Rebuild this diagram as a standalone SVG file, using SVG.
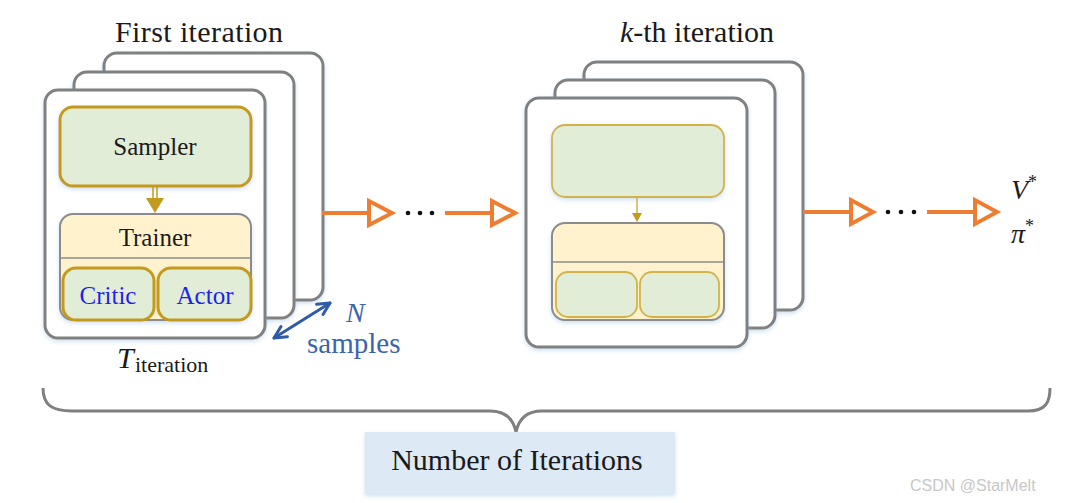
<svg xmlns="http://www.w3.org/2000/svg" width="1066" height="503" viewBox="0 0 1066 503">
<defs>
<style>
.card{fill:#fff;stroke:#808080;stroke-width:3}
.samp{fill:#E2EDD7;stroke:#C39A1E;stroke-width:3}
.samp2{fill:#E2EDD7;stroke:#D4B24A;stroke-width:1.8}
.train{fill:#FFF2CC;stroke:#8C8C8C;stroke-width:2}
.sep{stroke:#8C8C8C;stroke-width:1.5}
.orange{stroke:#ED7D31;stroke-width:4;fill:none}
.tri{stroke:#ED7D31;stroke-width:4;fill:#fff;stroke-linejoin:miter}
.serif{font-family:"Liberation Serif","Times New Roman",serif;fill:#1a1a1a}
.blue{fill:#1F1FF0}
.nblue{fill:#3B64AE}
.nb{stroke:#2F5BA8;stroke-width:3;fill:none;stroke-linecap:round;stroke-linejoin:round}
</style>
<filter id="sh" x="-10%" y="-10%" width="120%" height="130%">
<feDropShadow dx="0" dy="2" stdDeviation="2" flood-color="#9DC3E6" flood-opacity="0.5"/>
</filter>
</defs>
<rect width="1066" height="503" fill="#fff"/>

<!-- titles -->
<text class="serif" x="199" y="42" font-size="30" text-anchor="middle" textLength="168" lengthAdjust="spacing">First iteration</text>
<text class="serif" x="697" y="42" font-size="30" text-anchor="middle"><tspan font-style="italic">k</tspan>-th iteration</text>

<!-- first stack -->
<g id="stack1">
<rect class="card" x="104" y="53" width="219" height="247" rx="13" filter="url(#sh)"/>
<rect class="card" x="74" y="72" width="220" height="246" rx="13" filter="url(#sh)"/>
<rect class="card" x="45" y="90" width="220" height="248" rx="13" filter="url(#sh)"/>
</g>
<g id="sampler1">
<rect class="samp" x="60" y="107" width="191" height="79" rx="13" filter="url(#sh)"/>
<text class="serif" x="155" y="155" font-size="25" text-anchor="middle">Sampler</text>
</g>
<g id="trainer1">
<rect class="train" x="60" y="214" width="191" height="106" rx="13" filter="url(#sh)"/>
<line class="sep" x1="61" y1="258" x2="250" y2="258"/>
<text class="serif" x="155" y="246" font-size="25" text-anchor="middle">Trainer</text>
</g>
<g id="critic1">
<rect class="samp" x="63" y="268" width="91" height="52" rx="13"/>
<text class="serif blue" x="108" y="304" font-size="25" text-anchor="middle">Critic</text>
</g>
<g id="actor1">
<rect class="samp" x="158" y="268" width="93" height="52" rx="13"/>
<text class="serif blue" x="205" y="304" font-size="25" text-anchor="middle">Actor</text>
</g>
<text class="serif" x="117" y="368" font-size="30" font-style="italic">T</text>
<text class="serif" x="135" y="372" font-size="22">iteration</text>

<!-- N samples -->
<g id="nsamples">
<text class="serif nblue" x="346" y="322" font-size="28" font-style="italic">N</text>
<text class="serif nblue" x="307" y="353" font-size="29">samples</text>
</g>

<!-- second stack -->
<g id="stack2">
<rect class="card" x="584" y="62" width="219" height="248" rx="13" filter="url(#sh)"/>
<rect class="card" x="555" y="80" width="220" height="248" rx="13" filter="url(#sh)"/>
<rect class="card" x="526" y="98" width="221" height="249" rx="13" filter="url(#sh)"/>
</g>
<g id="sampler2">
<rect class="samp2" x="552" y="125" width="172" height="72" rx="13" filter="url(#sh)"/>
</g>
<g id="trainer2">
<rect class="train" x="552" y="223" width="172" height="97" rx="13" stroke-width="1.5" filter="url(#sh)"/>
<line class="sep" x1="553" y1="262" x2="723" y2="262"/>
</g>
<g id="critic2"><rect class="samp2" x="556" y="272" width="81" height="45" rx="12"/></g>
<g id="actor2"><rect class="samp2" x="640" y="272" width="79" height="45" rx="12"/></g>

<!-- connectors -->
<g id="connectors">
<line x1="153" y1="187" x2="153" y2="200" stroke="#C39A1E" stroke-width="1.5"/>
<line x1="157" y1="187" x2="157" y2="200" stroke="#C39A1E" stroke-width="1.5"/>
<polygon points="146,198 164,198 155,213" fill="#C39A1E"/>
<line x1="637" y1="197" x2="637" y2="214" stroke="#D4B24A" stroke-width="1.5"/>
<polygon points="632,213 642,213 637,222" fill="#C39A1E"/>

<line class="orange" x1="322" y1="213" x2="369" y2="213"/>
<polygon class="tri" points="369,201 369,225 392,213"/>
<line class="orange" x1="445" y1="213" x2="492" y2="213"/>
<polygon class="tri" points="492,201 492,225 515,213"/>
<line class="orange" x1="803" y1="212" x2="851" y2="212"/>
<polygon class="tri" points="851,200 851,224 873,212"/>
<line class="orange" x1="927" y1="212" x2="975" y2="212"/>
<polygon class="tri" points="975,200 975,224 997,212"/>

<line class="nb" x1="274" y1="338" x2="330" y2="303"/>
<polyline class="nb" points="316.6,304.3 330,303 323,314.5"/>
<polyline class="nb" points="281,326.5 274,338 287.4,336.7"/>
</g>
<g fill="#111">
<circle cx="408" cy="213" r="2.3"/><circle cx="420" cy="213" r="2.3"/><circle cx="432" cy="213" r="2.3"/>
<circle cx="888" cy="212" r="2.3"/><circle cx="901" cy="212" r="2.3"/><circle cx="914" cy="212" r="2.3"/>
</g>

<!-- results -->
<text class="serif" x="1011" y="199" font-size="28" font-style="italic">V<tspan font-size="18" dy="-11" font-style="normal">*</tspan></text>
<text class="serif" x="1011" y="243" font-size="28" font-style="italic">π<tspan font-size="18" dy="-11" font-style="normal">*</tspan></text>

<!-- brace -->
<path d="M43,388 C43,405 52,411 72,411 L490,411 C505,411 513,418 516,432 C519,418 527,411 542,411 L1028,411 C1046,411 1050,402 1050,388" fill="none" stroke="#7F7F7F" stroke-width="3"/>

<g id="count">
<rect x="365" y="432" width="310" height="62" fill="#DDE9F5" filter="url(#sh)"/>
<text class="serif" x="517" y="470" font-size="30" text-anchor="middle">Number of Iterations</text>
</g>

<text x="910" y="491" font-family="Liberation Sans, Arial, sans-serif" font-size="16" fill="#C8C8C8">CSDN @StarMelt</text>
</svg>
